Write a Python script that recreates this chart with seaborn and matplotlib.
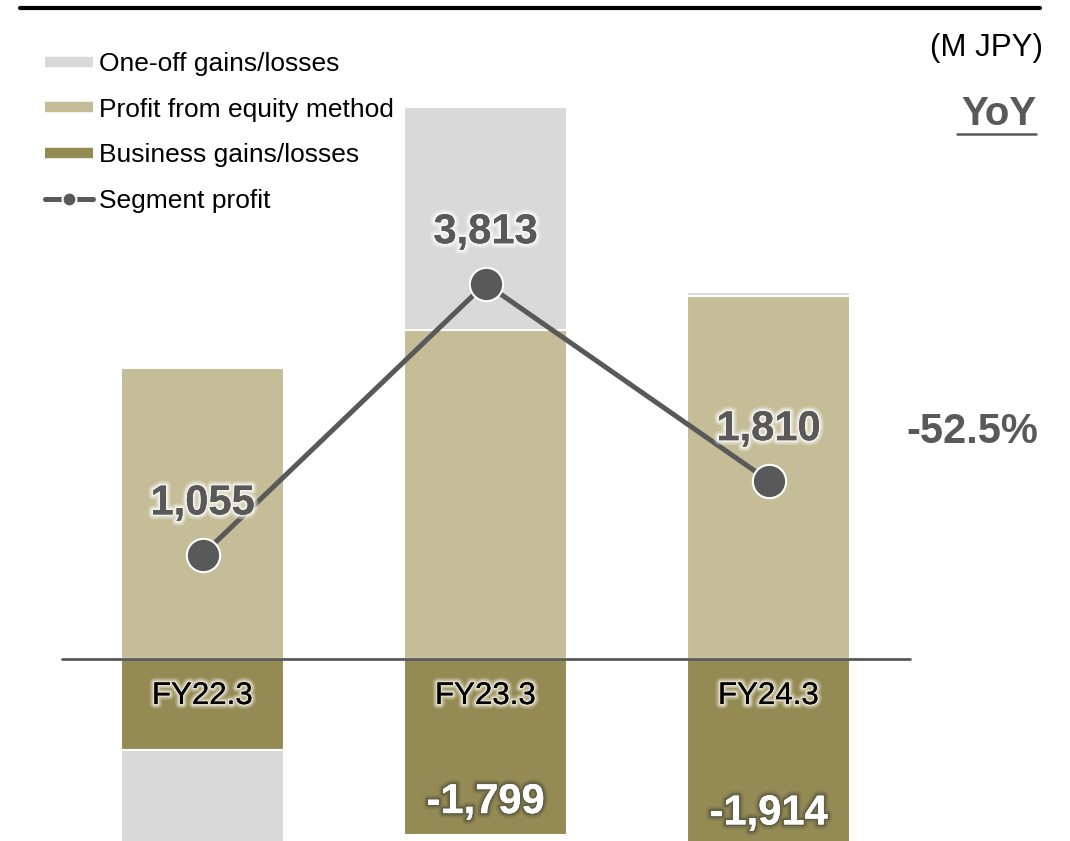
import numpy as np
import pandas as pd
import matplotlib
matplotlib.use("Agg")
import matplotlib.pyplot as plt
import matplotlib.patheffects as pe
from matplotlib.lines import Line2D
import seaborn as sns

# Segment profit breakdown (M JPY)
categories = ["FY22.3", "FY23.3", "FY24.3"]
equity_method = [2954, 3340, 3685]
business = [-931, -1799, -1914]
one_off = [-968, 2272, 39]
segment_profit = [1055, 3813, 1810]
business_labels = ["", "-1,799", "-1,914"]
yoy_text = "-52.5%"

C_ONEOFF = "#d9d9d9"
C_EQUITY = "#c4bd97"
C_BUSINESS = "#948a54"
C_GRAY = "#595959"

sns.set_theme(style="white")
plt.rcParams["font.family"] = ["Liberation Sans", "DejaVu Sans"]

W, H = 1070, 841
fig = plt.figure(figsize=(W / 100, H / 100), dpi=100)
ax = fig.add_axes([0, 0, 1, 1])

# stack layers: positives grow upward, negatives grow downward
layers = [("Profit from equity method", equity_method, C_EQUITY),
          ("Business gains/losses", business, C_BUSINESS),
          ("One-off gains/losses", one_off, C_ONEOFF)]
pos_base = np.zeros(len(categories))
neg_base = np.zeros(len(categories))
for name, vals, col in layers:
    vals = np.asarray(vals, dtype=float)
    bottoms = np.where(vals >= 0, pos_base, neg_base)
    df = pd.DataFrame({"period": categories, "value": vals})
    sns.barplot(data=df, x="period", y="value", order=categories, bottom=bottoms,
                color=col, width=0.576, edgecolor="white", linewidth=1.5,
                errorbar=None, saturation=1, ax=ax, zorder=2)
    pos_base = pos_base + np.where(vals >= 0, vals, 0)
    neg_base = neg_base + np.where(vals < 0, vals, 0)

# zero baseline
ax.axhline(0, xmin=62 / W, xmax=910 / W, color=C_GRAY, lw=2, zorder=3)

# segment profit line
xpos = np.arange(len(categories))
sns.lineplot(x=xpos, y=segment_profit, color=C_GRAY, lw=3.6, marker="o",
             markersize=24, markerfacecolor=C_GRAY, markeredgecolor="white",
             markeredgewidth=1.5, ax=ax, zorder=5, legend=False)


def soft_glow(color, widths=(7, 4.5, 2.5), alphas=(0.25, 0.35, 0.6)):
    effects = [pe.withStroke(linewidth=w, foreground=color, alpha=a)
               for w, a in zip(widths, alphas)]
    return effects + [pe.Normal()]


glow_white = soft_glow("white")
glow_dark = soft_glow("#4a4a3a", alphas=(0.15, 0.25, 0.45))
glow_light = soft_glow("#f4f1e4", alphas=(0.2, 0.35, 0.6))

for i, v in enumerate(segment_profit):
    ax.annotate(f"{v:,}", (xpos[i], v), xytext=(0, 37), textcoords="offset points",
                ha="center", va="center", fontsize=30, fontweight="bold",
                color=C_GRAY, path_effects=glow_white, zorder=6,
                annotation_clip=False)

for i, cat in enumerate(categories):
    ax.annotate(cat, (xpos[i], 0), xytext=(0, -27), textcoords="offset points",
                ha="center", va="center", fontsize=22.5, color="black",
                path_effects=glow_light, zorder=6, annotation_clip=False)

for i, v in enumerate(business):
    if business_labels[i]:
        ax.annotate(business_labels[i], (xpos[i], v), xytext=(0, 24),
                    textcoords="offset points", ha="center", va="center",
                    fontsize=30, fontweight="bold", color="white",
                    path_effects=glow_dark, zorder=6, annotation_clip=False)

# vertical scale: zero line at 658.5 px from top, ~10.17 M JPY per pixel
per_px = 10.17
ax.set_ylim(-(H - 658.5) * per_px, 658.5 * per_px)
ax.set_xlim(-202.5 / 283, (W - 202.5) / 283)
ax.axis("off")

# legend
handles = [Line2D([], [], color=C_ONEOFF, lw=7.5, solid_capstyle="butt"),
           Line2D([], [], color=C_EQUITY, lw=7.5, solid_capstyle="butt"),
           Line2D([], [], color=C_BUSINESS, lw=7.5, solid_capstyle="butt"),
           Line2D([], [], color=C_GRAY, lw=3.6, marker="o", markersize=10,
                  markerfacecolor=C_GRAY, markeredgecolor="white",
                  markeredgewidth=1.5)]
labels = ["One-off gains/losses", "Profit from equity method",
          "Business gains/losses", "Segment profit"]
leg = ax.legend(handles, labels, loc="upper left",
                bbox_to_anchor=(45 / W, 1 - 52 / H), frameon=False,
                fontsize=19, handlelength=1.8, handletextpad=0.25,
                labelspacing=0.82, borderpad=0, borderaxespad=0)
for t in leg.get_texts():
    t.set_color("black")

# header rule and annotations
fig.add_artist(Line2D([20 / W, 1040 / W], [1 - 8 / H, 1 - 8 / H],
                      color="black", lw=3, transform=fig.transFigure))
fig.text(1043 / W, 1 - 48 / H, "(M JPY)", ha="right", va="center",
         fontsize=22.5, color="black")
fig.text(1036 / W, 1 - 114 / H, "YoY", ha="right", va="center",
         fontsize=29, fontweight="bold", color=C_GRAY)
fig.add_artist(Line2D([957 / W, 1036 / W], [1 - 134 / H, 1 - 134 / H],
                      color=C_GRAY, lw=1.8, transform=fig.transFigure))
fig.text(1038 / W, 1 - 432 / H, yoy_text, ha="right", va="center",
         fontsize=30, fontweight="bold", color=C_GRAY)

fig.savefig("out.png", dpi=100)
